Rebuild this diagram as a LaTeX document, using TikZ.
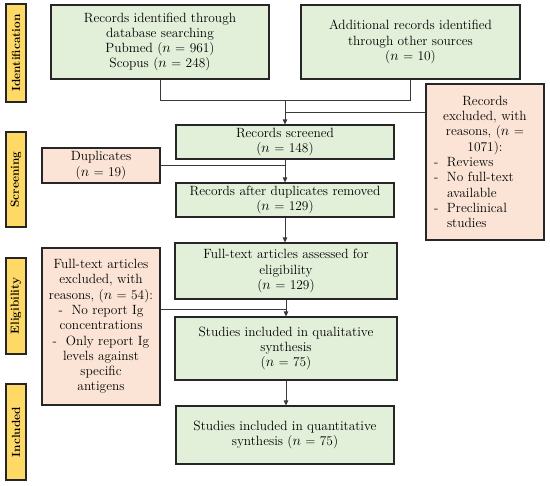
\documentclass[tikz,border=0pt]{standalone}
\usetikzlibrary{arrows.meta}
\definecolor{boxgreen}{HTML}{E2EFD9}
\definecolor{boxpink}{HTML}{FBE4D5}
\definecolor{labyellow}{HTML}{FFD966}
\definecolor{edgecol}{HTML}{262626}
\definecolor{conncol}{HTML}{3A3A3A}
\newcommand{\nval}[1]{($n$\ =\ #1)}
\begin{document}
\begin{tikzpicture}[x=1pt,y=1pt,
  base/.style={draw=edgecol, line width=1.1pt, inner sep=2pt, align=center,
    font=\fontsize{13.4}{15.3}\selectfont},
  gbox/.style={base, fill=boxgreen},
  pbox/.style={base, fill=boxpink},
  stage/.style={draw=edgecol, line width=1.1pt, fill=labyellow, rotate=90,
    minimum height=20pt, inner sep=0pt, font=\bfseries\fontsize{11.8}{13}\selectfont},
  conn/.style={draw=conncol, line width=0.8pt},
  arr/.style={conn, -{Triangle[length=5pt,width=4.5pt]}}
]
\useasboundingbox (0,0) rectangle (550,-486);
% stage labels
\node[stage, minimum width=98pt] (idlab) at (16,-53) {Identification};
\node[stage, minimum width=95pt] (scrlab) at (16,-179.5) {Screening};
\node[stage, minimum width=96pt] (elilab) at (16,-306) {Eligibility};
\node[stage, minimum width=96pt] (inclab) at (16,-432) {Included};
% boxes
\node[gbox, minimum width=218pt, minimum height=74pt] (b1) at (160,-42)
  {Records identified through\\database searching\\Pubmed \nval{961}\\Scopus \nval{248}};
\node[gbox, minimum width=219pt, minimum height=74pt] (b2) at (410.5,-42)
  {Additional records identified\\through other sources\\\nval{10}};
\node[pbox, minimum width=118pt, minimum height=156pt, text width=102pt, align=left] (excl) at (485,-162)
  {\exhyphenpenalty=10000
   {\centering Records\\excluded, with\\reasons, ($n$\ =\\1071):\par}
   \hangindent=13pt\hangafter=1\noindent\makebox[13pt][l]{-}Reviews\par
   \hangindent=13pt\hangafter=1\noindent\makebox[13pt][l]{-}No full-text available\par
   \hangindent=13pt\hangafter=1\noindent\makebox[13pt][l]{-}Preclinical studies\par};
\node[gbox, minimum width=218pt, minimum height=34pt] (screened) at (285,-142)
  {Records screened\\\nval{148}};
\node[pbox, minimum width=118pt, minimum height=35pt] (dup) at (101,-165.5)
  {Duplicates\\\nval{19}};
\node[gbox, minimum width=218pt, minimum height=34pt] (afterdup) at (285,-200)
  {Records after duplicates removed\\\nval{129}};
\node[gbox, minimum width=222pt, minimum height=56pt] (fulltext) at (286,-271)
  {Full-text articles assessed for\\eligibility\\\nval{129}};
\node[pbox, minimum width=118pt, minimum height=157pt] (fte) at (101,-326.5)
  {Full-text articles\\excluded, with\\reasons, \nval{54}:\\-\ \ No report Ig\\concentrations\\-\ \ Only report Ig\\levels against\\specific\\antigens};
\node[gbox, minimum width=222pt, minimum height=63pt] (qual) at (286,-348.5)
  {Studies included in qualitative\\synthesis\\\nval{75}};
\node[gbox, minimum width=218pt, minimum height=58pt] (quant) at (285,-435)
  {Studies included in quantitative\\synthesis \nval{75}};
% junctions
\coordinate (j1) at (285,-100);
\coordinate (j2) at (285,-112);
\coordinate (j3) at (286,-309);
% connectors
\draw[conn] (b1.south) |- (j1);
\draw[conn] (b2.south) |- (j1);
\draw[arr] (j1) -- (screened.north);
\draw[conn] (excl.west |- j2) -- (j2);
\draw[arr] (screened.south) -- (afterdup.north);
\draw[conn] (dup.east) -- (dup.east -| screened.south);
\draw[arr] (afterdup.south) -- (afterdup.south |- fulltext.north);
\draw[arr] (fulltext.south) -- (qual.north);
\draw[conn] (fte.east |- j3) -- (j3);
\draw[arr] (qual.south) -- (qual.south |- quant.north);
\end{tikzpicture}
\end{document}
